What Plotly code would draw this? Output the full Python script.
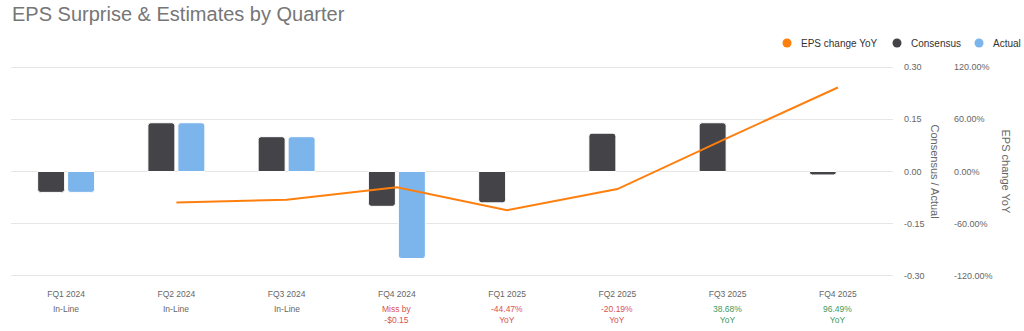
import plotly.graph_objects as go

# Quarterly EPS data
quarters = ["FQ1 2024", "FQ2 2024", "FQ3 2024", "FQ4 2024",
            "FQ1 2025", "FQ2 2025", "FQ3 2025", "FQ4 2025"]
consensus = [-0.06, 0.14, 0.10, -0.10, -0.09, 0.11, 0.14, -0.01]
actual = [-0.06, 0.14, 0.10, -0.25, None, None, None, None]
eps_change_yoy = [None, -0.355, -0.325, -0.18, -0.4447, -0.2019, 0.3868, 0.9649]

# Surprise / YoY notes under each quarter
notes = ["In-Line", "In-Line", "In-Line", "Miss by<br>-$0.15",
         "-44.47%<br>YoY", "-20.19%<br>YoY", "38.68%<br>YoY", "96.49%<br>YoY"]
note_tone = ["neutral", "neutral", "neutral", "neg", "neg", "neg", "pos", "pos"]

# Axis tick labels
left_tickvals = [-0.30, -0.15, 0.00, 0.15, 0.30]
left_ticktext = ["-0.30", "-0.15", "0.00", "0.15", "0.30"]
right_tickvals = [-1.2, -0.6, 0.0, 0.6, 1.2]
right_ticktext = ["-120.00%", "-60.00%", "0.00%", "60.00%", "120.00%"]

C_CONS = "#434348"
C_ACT = "#7cb5ec"
C_LINE = "#ff7f0e"
TONE = {"neutral": "#666666", "neg": "#d9534f", "pos": "#3d9a62"}
FONT = "Liberation Sans, Arial, sans-serif"

W, H = 1024, 331
# Range is padded by 1% so the outer gridlines are not clipped at the plot edge
PAD = 1.01
ML, MR, MT, MB = 11, 5, 66, 54
paper_w = W - ML - MR
paper_h = H - MT - MB
plot_w = 882


def px_x(px):
    """Pixel column -> paper x fraction."""
    return (px - ML) / paper_w


def px_y(py):
    """Pixel row -> paper y fraction."""
    return (H - MB - py) / paper_h


fig = go.Figure()

fig.add_trace(go.Bar(
    x=quarters, y=consensus, name="Consensus",
    marker=dict(color=C_CONS, cornerradius=3, line=dict(color="white", width=1)),
    showlegend=False, yaxis="y",
))
fig.add_trace(go.Bar(
    x=quarters, y=actual, name="Actual",
    marker=dict(color=C_ACT, cornerradius=3, line=dict(color="white", width=1)),
    showlegend=False, yaxis="y",
))
fig.add_trace(go.Scatter(
    x=quarters, y=eps_change_yoy, name="EPS change YoY",
    mode="lines", line=dict(color=C_LINE, width=2),
    showlegend=False, yaxis="y2", connectgaps=False,
))

annotations = []
shapes = []

for q, txt, tone in zip(quarters, notes, note_tone):
    annotations.append(dict(
        x=q, xref="x", y=px_y(276), yref="paper", yanchor="top", yshift=-26,
        text=txt, showarrow=False, align="center",
        font=dict(family=FONT, size=8.5, color=TONE[tone]),
    ))

# Rotated axis titles (reading top to bottom)
annotations.append(dict(
    x=px_x(935), xref="paper", xanchor="center", y=0.5, yref="paper",
    text="Consensus / Actual", textangle=90, showarrow=False,
    font=dict(family=FONT, size=11, color="#666666"),
))
annotations.append(dict(
    x=px_x(1006), xref="paper", xanchor="center", y=0.5, yref="paper",
    text="EPS change YoY", textangle=90, showarrow=False,
    font=dict(family=FONT, size=11, color="#666666"),
))

# Legend: circle swatch followed by the series name
legend_items = [("EPS change YoY", C_LINE, 787), ("Consensus", C_CONS, 897), ("Actual", C_ACT, 979)]
LEG_Y = 43
for name, color, cx in legend_items:
    shapes.append(dict(
        type="circle", xref="paper", yref="paper",
        x0=px_x(cx - 4.5), x1=px_x(cx + 4.5),
        y0=px_y(LEG_Y + 4.5), y1=px_y(LEG_Y - 4.5),
        fillcolor=color, line=dict(width=0),
    ))
    annotations.append(dict(
        x=px_x(cx + 12), xref="paper", xanchor="left",
        y=px_y(LEG_Y), yref="paper", yanchor="middle",
        text=name, showarrow=False,
        font=dict(family=FONT, size=10, color="#333333"),
    ))

fig.update_layout(
    width=W, height=H,
    margin=dict(l=ML, r=MR, t=MT, b=MB, pad=0),
    paper_bgcolor="white", plot_bgcolor="white",
    font=dict(family=FONT, size=9, color="#666666"),
    title=dict(
        text="EPS Surprise & Estimates by Quarter",
        x=12 / W, xref="container", xanchor="left",
        y=1 - 14 / H, yref="container", yanchor="middle",
        font=dict(family=FONT, size=20, color="#767676"),
    ),
    barmode="group", bargap=0.456, bargroupgap=0.1,
    showlegend=False,
    xaxis=dict(
        domain=[0, plot_w / paper_w],
        type="category", range=[-0.5, 7.5],
        showgrid=False, zeroline=False, showline=False,
        ticks="", ticklabelstandoff=10,
        tickfont=dict(family=FONT, size=8.5, color="#666666"),
    ),
    yaxis=dict(
        side="right", anchor="x", range=[-0.3 * PAD, 0.3 * PAD],
        tickvals=left_tickvals, ticktext=left_ticktext,
        showgrid=True, gridcolor="#e6e6e6", gridwidth=1,
        zeroline=False, showline=False, ticks="",
        ticklabelstandoff=10,
        tickfont=dict(family=FONT, size=9, color="#666666"),
    ),
    yaxis2=dict(
        overlaying="y", side="right", anchor="free",
        position=px_x(953),
        range=[-1.2 * PAD, 1.2 * PAD],
        tickvals=right_tickvals, ticktext=right_ticktext,
        showgrid=False, zeroline=False, showline=False, ticks="",
        tickfont=dict(family=FONT, size=9, color="#666666"),
    ),
    annotations=annotations,
    shapes=shapes,
)

fig.write_html("out.html")
